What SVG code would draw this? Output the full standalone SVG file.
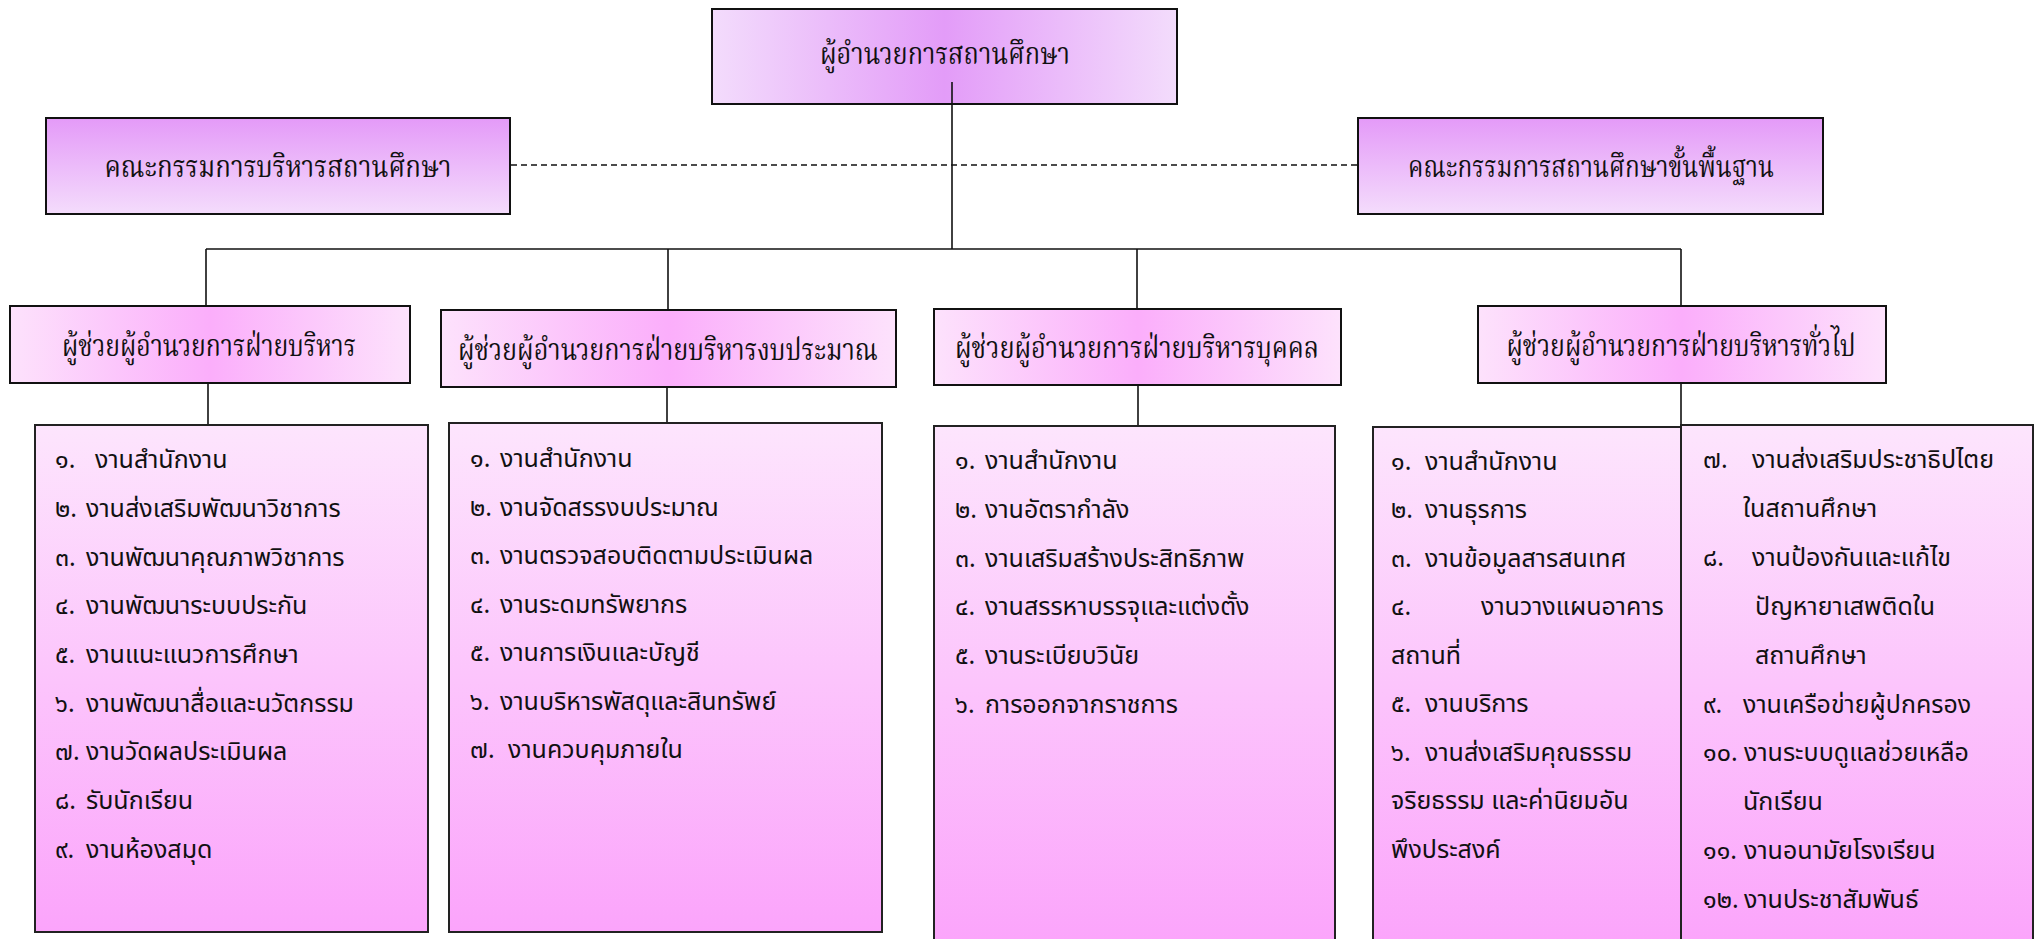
<svg xmlns="http://www.w3.org/2000/svg" width="2042" height="939" viewBox="0 0 2042 939">
<defs>
<linearGradient id="gTop" x1="0" y1="0" x2="1" y2="0">
<stop offset="0" stop-color="#f3dcfc"/><stop offset="0.5" stop-color="#e39cf8"/><stop offset="1" stop-color="#f3dcfc"/>
</linearGradient>
<linearGradient id="gComm" x1="0" y1="0" x2="0" y2="1">
<stop offset="0" stop-color="#e49af8"/><stop offset="1" stop-color="#f4dcfc"/>
</linearGradient>
<linearGradient id="gHead" x1="0" y1="0" x2="1" y2="0">
<stop offset="0" stop-color="#fde2fc"/><stop offset="0.5" stop-color="#fbaefb"/><stop offset="1" stop-color="#fde2fc"/>
</linearGradient>
<linearGradient id="gList" x1="0" y1="0" x2="0" y2="1">
<stop offset="0" stop-color="#fde5fd"/><stop offset="1" stop-color="#fba4fb"/>
</linearGradient>
</defs>
<style>
.box{stroke:#111;stroke-width:2}
.lst{stroke:#222;stroke-width:2;fill:url(#gList)}
.hd{font-family:"Noto Serif Thai","Noto Sans Thai","Norasi","Garuda","DejaVu Sans",serif;font-size:30px;fill:#111;text-anchor:middle}
.it{font-family:"Noto Sans Thai","Loma","Garuda","DejaVu Sans",sans-serif;font-size:25px;fill:#111}
.ln{stroke:#111;stroke-width:1.6;fill:none}
.dash{stroke:#111;stroke-width:1.6;fill:none;stroke-dasharray:6 4}
</style>

<g id="connectors">
<line class="ln" x1="952" y1="82" x2="952" y2="249"/>
<line class="dash" x1="511" y1="165" x2="1357" y2="165"/>
<line class="ln" x1="206" y1="249" x2="1681" y2="249"/>
<line class="ln" x1="206" y1="249" x2="206" y2="306"/>
<line class="ln" x1="668" y1="249" x2="668" y2="310"/>
<line class="ln" x1="1137" y1="249" x2="1137" y2="309"/>
<line class="ln" x1="1681" y1="249" x2="1681" y2="306"/>
<line class="ln" x1="208" y1="383" x2="208" y2="425"/>
<line class="ln" x1="667" y1="387" x2="667" y2="423"/>
<line class="ln" x1="1138" y1="385" x2="1138" y2="426"/>
<line class="ln" x1="1681" y1="383" x2="1681" y2="425"/>
</g>

<g id="director">
<rect class="box" x="712" y="9" width="465" height="95" fill="url(#gTop)"/>
<line class="ln" x1="952" y1="82" x2="952" y2="104"/>
<text class="hd" x="945" y="64" textLength="250" lengthAdjust="spacingAndGlyphs">ผู้อำนวยการสถานศึกษา</text>
</g>

<g id="board-admin">
<rect class="box" x="46" y="118" width="464" height="96" fill="url(#gComm)"/>
<text class="hd" x="278" y="177" textLength="347" lengthAdjust="spacingAndGlyphs">คณะกรรมการบริหารสถานศึกษา</text>
</g>

<g id="board-basic">
<rect class="box" x="1358" y="118" width="465" height="96" fill="url(#gComm)"/>
<text class="hd" x="1591" y="177" textLength="366" lengthAdjust="spacingAndGlyphs">คณะกรรมการสถานศึกษาขั้นพื้นฐาน</text>
</g>

<g id="asst-admin">
<rect class="box" x="10" y="306" width="400" height="77" fill="url(#gHead)"/>
<text class="hd" x="209" y="356" textLength="294" lengthAdjust="spacingAndGlyphs">ผู้ช่วยผู้อำนวยการฝ่ายบริหาร</text>
</g>
<g id="asst-budget">
<rect class="box" x="441" y="310" width="455" height="77" fill="url(#gHead)"/>
<text class="hd" x="668" y="360" textLength="420" lengthAdjust="spacingAndGlyphs">ผู้ช่วยผู้อำนวยการฝ่ายบริหารงบประมาณ</text>
</g>
<g id="asst-personnel">
<rect class="box" x="934" y="309" width="407" height="76" fill="url(#gHead)"/>
<text class="hd" x="1137" y="358" textLength="364" lengthAdjust="spacingAndGlyphs">ผู้ช่วยผู้อำนวยการฝ่ายบริหารบุคคล</text>
</g>
<g id="asst-general">
<rect class="box" x="1478" y="306" width="408" height="77" fill="url(#gHead)"/>
<text class="hd" x="1681" y="356" textLength="349" lengthAdjust="spacingAndGlyphs">ผู้ช่วยผู้อำนวยการฝ่ายบริหารทั่วไป</text>
</g>

<g id="list-admin">
<rect class="lst" x="35" y="425" width="393" height="507"/>
<text class="it" x="55" y="468">๑.<tspan x="95">งานสำนักงาน</tspan></text>
<text class="it" x="55" y="517">๒.<tspan x="86">งานส่งเสริมพัฒนาวิชาการ</tspan></text>
<text class="it" x="55" y="566">๓.<tspan x="86">งานพัฒนาคุณภาพวิชาการ</tspan></text>
<text class="it" x="55" y="614">๔.<tspan x="86">งานพัฒนาระบบประกัน</tspan></text>
<text class="it" x="55" y="663">๕.<tspan x="86">งานแนะแนวการศึกษา</tspan></text>
<text class="it" x="55" y="712">๖.<tspan x="86">งานพัฒนาสื่อและนวัตกรรม</tspan></text>
<text class="it" x="55" y="760">๗.<tspan x="86">งานวัดผลประเมินผล</tspan></text>
<text class="it" x="55" y="809">๘.<tspan x="86">รับนักเรียน</tspan></text>
<text class="it" x="55" y="858">๙.<tspan x="86">งานห้องสมุด</tspan></text>
</g>

<g id="list-budget">
<rect class="lst" x="449" y="423" width="433" height="509"/>
<text class="it" x="470" y="467">๑.<tspan x="500">งานสำนักงาน</tspan></text>
<text class="it" x="470" y="516">๒.<tspan x="500">งานจัดสรรงบประมาณ</tspan></text>
<text class="it" x="470" y="564">๓.<tspan x="500">งานตรวจสอบติดตามประเมินผล</tspan></text>
<text class="it" x="470" y="613">๔.<tspan x="500">งานระดมทรัพยากร</tspan></text>
<text class="it" x="470" y="661">๕.<tspan x="500">งานการเงินและบัญชี</tspan></text>
<text class="it" x="470" y="710">๖.<tspan x="500">งานบริหารพัสดุและสินทรัพย์</tspan></text>
<text class="it" x="470" y="758">๗.<tspan x="508">งานควบคุมภายใน</tspan></text>
</g>

<g id="list-personnel">
<rect class="lst" x="934" y="426" width="401" height="520"/>
<text class="it" x="955" y="469">๑.<tspan x="985">งานสำนักงาน</tspan></text>
<text class="it" x="955" y="518">๒.<tspan x="985">งานอัตรากำลัง</tspan></text>
<text class="it" x="955" y="567">๓.<tspan x="985">งานเสริมสร้างประสิทธิภาพ</tspan></text>
<text class="it" x="955" y="615">๔.<tspan x="985">งานสรรหาบรรจุและแต่งตั้ง</tspan></text>
<text class="it" x="955" y="664">๕.<tspan x="985">งานระเบียบวินัย</tspan></text>
<text class="it" x="955" y="713">๖.<tspan x="985">การออกจากราชการ</tspan></text>
</g>

<g id="list-general-1">
<rect class="lst" x="1373" y="427" width="308" height="520"/>
<text class="it" x="1391" y="470">๑.<tspan x="1425">งานสำนักงาน</tspan></text>
<text class="it" x="1391" y="518">๒.<tspan x="1425">งานธุรการ</tspan></text>
<text class="it" x="1391" y="567">๓.<tspan x="1425">งานข้อมูลสารสนเทศ</tspan></text>
<text class="it" x="1391" y="615">๔.<tspan x="1481">งานวางแผนอาคาร</tspan></text>
<text class="it" x="1391" y="664">สถานที่</text>
<text class="it" x="1391" y="712">๕.<tspan x="1425">งานบริการ</tspan></text>
<text class="it" x="1391" y="761">๖.<tspan x="1425">งานส่งเสริมคุณธรรม</tspan></text>
<text class="it" x="1391" y="809">จริยธรรม และค่านิยมอัน</text>
<text class="it" x="1391" y="858">พึงประสงค์</text>
</g>

<g id="list-general-2">
<rect class="lst" x="1681" y="425" width="352" height="522"/>
<text class="it" x="1703" y="468">๗.<tspan x="1752">งานส่งเสริมประชาธิปไตย</tspan></text>
<text class="it" x="1743" y="517">ในสถานศึกษา</text>
<text class="it" x="1703" y="566">๘.<tspan x="1752">งานป้องกันและแก้ไข</tspan></text>
<text class="it" x="1755" y="615">ปัญหายาเสพติดใน</text>
<text class="it" x="1755" y="664">สถานศึกษา</text>
<text class="it" x="1703" y="713">๙.<tspan x="1743">งานเครือข่ายผู้ปกครอง</tspan></text>
<text class="it" x="1703" y="761">๑๐.<tspan x="1744">งานระบบดูแลช่วยเหลือ</tspan></text>
<text class="it" x="1743" y="810">นักเรียน</text>
<text class="it" x="1703" y="859">๑๑.<tspan x="1744">งานอนามัยโรงเรียน</tspan></text>
<text class="it" x="1703" y="908">๑๒.<tspan x="1744">งานประชาสัมพันธ์</tspan></text>
</g>
</svg>
